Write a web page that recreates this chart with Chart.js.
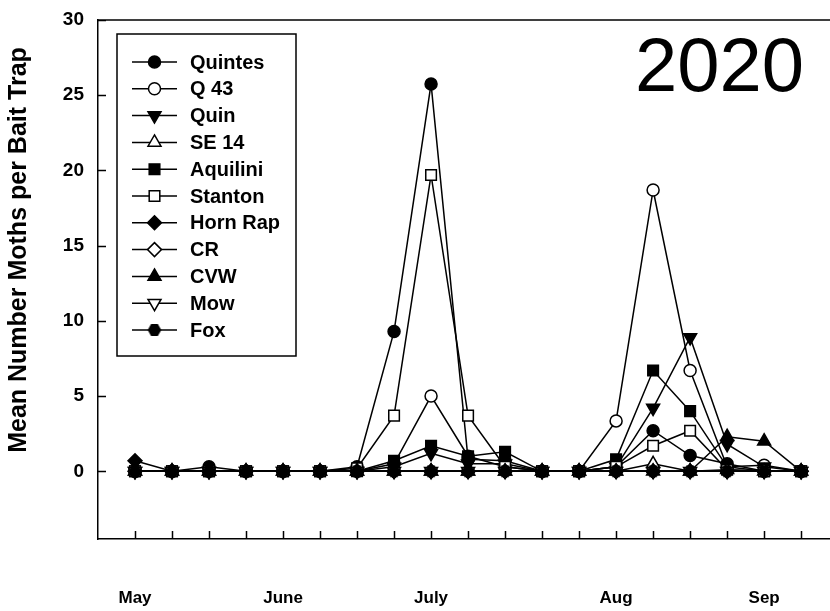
<!DOCTYPE html>
<html lang="en">
<head>
<meta charset="UTF-8" />
<title>Moths per Bait Trap 2020</title>
<script src="https://cdn.jsdelivr.net/npm/chart.js"></script>
<style>
  html, body { margin: 0; padding: 0; background: #fff; }
</style>
</head>
<body>
<canvas id="myChart" width="830" height="611"></canvas>
<script>
// one entry per trap check, month name under the first check of each month
const sampleLabels = ['May', '', '', '', 'June', '', '', '', 'July', '', '', '', '', 'Aug', '', '', '', 'Sep', ''];
const yTicks = [0, 5, 10, 15, 20, 25, 30];

// mean moths per bait trap, per site
const quintes  = [0, 0, 0.3, 0, 0, 0, 0.3, 9.3, 25.75, 0.8, 0.7, 0, 0, 0.3, 2.7, 1.05, 0.5, 0, 0];
const q43      = [0, 0, 0, 0, 0, 0, 0, 0.5, 5.0, 1.0, 0.3, 0, 0, 3.35, 18.7, 6.7, 0.3, 0.4, 0];
const quin     = [0, 0, 0, 0, 0, 0, 0, 0.3, 1.2, 0.5, 0.5, 0, 0, 0.3, 4.2, 8.9, 1.8, 0.3, 0];
const se14     = [0, 0, 0, 0, 0, 0, 0, 0, 0, 0, 0, 0, 0, 0, 0.5, 0, 0.1, 0, 0];
const aquilini = [0, 0, 0, 0, 0, 0, 0, 0.7, 1.7, 1.0, 1.3, 0, 0, 0.8, 6.7, 4.0, 0.3, 0, 0];
const stanton  = [0, 0, 0, 0, 0, 0, 0.2, 3.7, 19.7, 3.7, 0.3, 0, 0, 0.3, 1.7, 2.7, 0.1, 0, 0];
const hornRap  = [0.7, 0, 0, 0, 0, 0, 0, 0, 0, 0, 0, 0, 0, 0, 0, 0, 0, 0, 0];
const cr       = [0, 0, 0, 0, 0, 0, 0, 0, 0, 0, 0, 0, 0, 0, 0, 0, 0, 0, 0];
const cvw      = [0, 0, 0, 0, 0, 0, 0, 0, 0, 0, 0, 0, 0, 0, 0, 0, 2.3, 2.0, 0];
const mow      = [0, 0, 0, 0, 0, 0, 0, 0, 0, 0, 0, 0, 0, 0, 0, 0, 0, 0, 0];
const fox      = [0, 0, 0, 0, 0, 0, 0, 0, 0, 0, 0, 0, 0, 0, 0, 0, 0, 0, 0];

Chart.defaults.font.family = "'Liberation Sans', Arial, sans-serif";
Chart.defaults.color = '#000';

// filled hexagon marker for Fox
function hexMarker(r) {
  const c = document.createElement('canvas');
  const s = Math.ceil(r * 2 + 2);
  c.width = s; c.height = s;
  const g = c.getContext('2d');
  g.fillStyle = '#000';
  g.beginPath();
  for (let k = 0; k < 6; k++) {
    const a = k * Math.PI / 3;
    const px = s / 2 + Math.cos(a) * r, py = s / 2 + Math.sin(a) * r;
    if (k === 0) g.moveTo(px, py); else g.lineTo(px, py);
  }
  g.closePath();
  g.fill();
  return c;
}

function series(label, values, style, radius, filled, rotation) {
  return {
    label: label,
    data: values.map((v, i) => ({ x: i, y: v })),
    borderColor: '#000',
    borderWidth: 1.5,
    pointStyle: style,
    pointRadius: radius,
    pointHoverRadius: radius,
    pointRotation: rotation || 0,
    pointBackgroundColor: filled ? '#000' : '#fff',
    pointBorderColor: '#000',
    pointBorderWidth: 1.5,
    tension: 0
  };
}

const datasets = [
  series('Quintes', quintes, 'circle', 6, true),
  series('Q 43', q43, 'circle', 6, false),
  series('Quin', quin, 'triangle', 7.5, true, 180),
  series('SE 14', se14, 'triangle', 7.5, false),
  series('Aquilini', aquilini, 'rect', 7.5, true),
  series('Stanton', stanton, 'rect', 7.5, false),
  series('Horn Rap', hornRap, 'rectRot', 7, true),
  series('CR', cr, 'rectRot', 7, false),
  series('CVW', cvw, 'triangle', 7.5, true),
  series('Mow', mow, 'triangle', 7.5, false, 180),
  series('Fox', fox, hexMarker(6.8), 7, true)
];
// later sites sit on top, like the original plot
datasets.forEach((d, i) => { d.order = datasets.length - i; });

const framePlugin = {
  id: 'frame',
  beforeDatasetsDraw(chart) {
    const { ctx, chartArea: a, scales: { x, y } } = chart;
    ctx.save();
    ctx.strokeStyle = '#000';
    ctx.lineWidth = 1.5;
    ctx.beginPath();
    ctx.moveTo(a.left, a.top);
    ctx.lineTo(a.right, a.top);
    // inward tick marks
    sampleLabels.forEach((l, i) => {
      const px = Math.round(x.getPixelForValue(i)) + 0.5;
      ctx.moveTo(px, a.bottom);
      ctx.lineTo(px, a.bottom - 8);
    });
    yTicks.forEach(v => {
      const py = Math.round(y.getPixelForValue(v)) + 0.5;
      ctx.moveTo(a.left, py);
      ctx.lineTo(a.left + 8, py);
    });
    ctx.stroke();
    ctx.restore();
  },
  afterDraw(chart) {
    const { ctx } = chart;
    ctx.save();
    ctx.fillStyle = '#000';

    // y axis title
    ctx.save();
    ctx.translate(19, 250);
    ctx.rotate(-Math.PI / 2);
    ctx.font = "bold 25px 'Liberation Sans', Arial, sans-serif";
    ctx.textAlign = 'center';
    ctx.textBaseline = 'middle';
    ctx.fillText('Mean Number Moths per Bait Trap', 0, 0);
    ctx.restore();

    // year
    ctx.font = "76px 'Liberation Sans', Arial, sans-serif";
    ctx.textAlign = 'right';
    ctx.textBaseline = 'alphabetic';
    ctx.fillText('2020', 804, 91);

    // legend box
    ctx.strokeStyle = '#000';
    ctx.lineWidth = 1.5;
    ctx.strokeRect(117, 34, 179, 322);
    ctx.font = "bold 20px 'Liberation Sans', Arial, sans-serif";
    ctx.textAlign = 'left';
    ctx.textBaseline = 'middle';
    chart.data.datasets.forEach((d, i) => {
      const ly = 62 + i * 26.8;
      ctx.beginPath();
      ctx.lineWidth = 1.5;
      ctx.moveTo(132, ly);
      ctx.lineTo(177, ly);
      ctx.stroke();
      ctx.fillStyle = d.pointBackgroundColor;
      Chart.helpers.drawPoint(ctx, {
        pointStyle: d.pointStyle,
        rotation: d.pointRotation,
        radius: d.pointRadius,
        borderWidth: d.pointBorderWidth
      }, 154.5, ly);
      ctx.fillStyle = '#000';
      ctx.fillText(d.label, 190, ly + 1);
    });
    ctx.restore();
  }
};

const ctx = document.getElementById('myChart').getContext('2d');
new Chart(ctx, {
  type: 'line',
  data: { datasets: datasets },
  options: {
    responsive: false,
    animation: false,
    events: [],
    layout: { autoPadding: false, padding: { top: 20, right: 0, bottom: 0, left: 0 } },
    plugins: { legend: { display: false }, tooltip: { enabled: false } },
    scales: {
      x: {
        type: 'linear',
        min: -1,
        max: 18.78,
        afterBuildTicks: s => { s.ticks = sampleLabels.map((l, i) => ({ value: i })); },
        afterFit: s => { s.height = 72; s.paddingLeft = 0; s.paddingRight = 0; },
        grid: { display: false, drawTicks: false },
        border: { color: '#000', width: 1.5 },
        ticks: {
          autoSkip: false,
          maxRotation: 0,
          padding: 49,
          font: { size: 17, weight: 'bold' },
          callback: v => sampleLabels[v] || ''
        }
      },
      y: {
        min: -4.5,
        max: 30,
        afterBuildTicks: s => { s.ticks = yTicks.map(v => ({ value: v })); },
        afterFit: s => { s.width = 98; s.paddingTop = 0; s.paddingBottom = 0; },
        grid: { display: false, drawTicks: false },
        border: { color: '#000', width: 1.5 },
        ticks: {
          padding: 14,
          font: { size: 19, weight: 'bold' }
        }
      }
    }
  },
  plugins: [framePlugin]
});
</script>
</body>
</html>
